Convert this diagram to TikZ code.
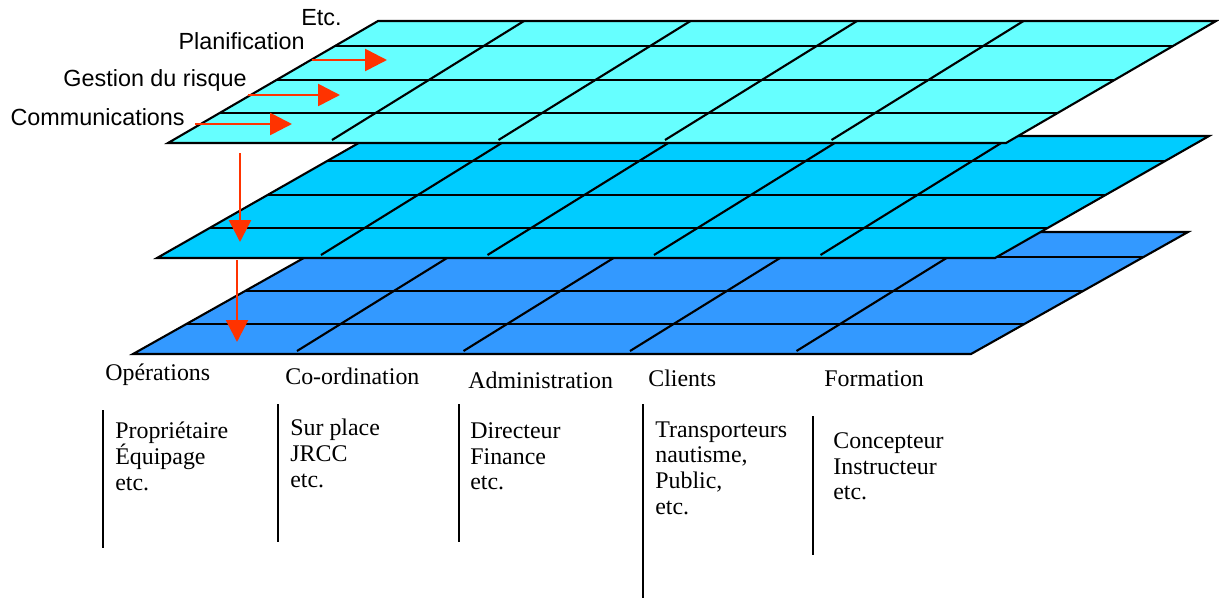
\documentclass[tikz,border=0pt]{standalone}
\usepackage{fontspec}
\setmainfont{Liberation Serif}
\newfontfamily\arialfont{Liberation Sans}
\usetikzlibrary{arrows.meta}
\definecolor{layerA}{HTML}{66FFFF}
\definecolor{layerB}{HTML}{00CCFF}
\definecolor{layerC}{HTML}{3399FF}
\definecolor{flowred}{HTML}{FF3300}

\begin{document}
\begin{tikzpicture}[x=0.02cm, y=-0.02cm,
    gridline/.style={draw=black, line width=1.2pt},
    flow/.style={flowred, line width=1.5pt, -{Triangle[length=12.5pt, width=12.5pt]}},
    planlabel/.style={font=\arialfont\fontsize{13.3}{16}\selectfont, inner sep=0pt, anchor=base east},
    colhead/.style={font=\fontsize{13.6}{15}\selectfont, inner sep=0pt, anchor=base west},
    colbody/.style={font=\fontsize{13.6}{14.7}\selectfont, inner sep=0pt, anchor=north west, align=left},
    divider/.style={black, line width=1.2pt}]
  \useasboundingbox (0,0) rectangle (1219,599);

  % layers, back to front
  \foreach \yt/\xl/\sh/\col in {232/133/217/layerC, 136/157/214/layerB, 21/168/210/layerA}{
    \pgfmathsetmacro{\yb}{\yt+122}
    \filldraw [fill=\col, gridline] (\xl,\yb) -- (\xl+\sh,\yt) -- (\xl+\sh+838,\yt) -- (\xl+838,\yb) -- cycle;
    \foreach \dy in {25,59,92}
      \draw [gridline] ({\xl+\sh/122*(122-\dy)},\yt+\dy) -- ++(838,0);
    \foreach \i in {0,...,3}
      \draw [gridline] ({\xl+164+166.5*\i},\yb-3) -- ++(192,-119);
  }

  \node [planlabel] (etc) at (342,25) {Etc.};
  \node [planlabel] (plan) at (305,49) {Planification};
  \node [planlabel] (risk) at (247,86) {Gestion du risque};
  \node [planlabel] (comm) at (185,125) {Communications};

  \coordinate (planA) at (312,60);  \coordinate (planB) at (387,60);
  \coordinate (riskA) at (248,95);  \coordinate (riskB) at (340,95);
  \coordinate (commA) at (195,124); \coordinate (commB) at (292,124);
  \coordinate (downA) at (240,153); \coordinate (downB) at (240,242);
  \coordinate (downC) at (237,260); \coordinate (downD) at (237,342);
  \draw [flow] (planA) -- (planB);
  \draw [flow] (riskA) -- (riskB);
  \draw [flow] (commA) -- (commB);
  \draw [flow] (downA) -- (downB);
  \draw [flow] (downC) -- (downD);

  \node [colhead] (ops) at (105,380) {Opérations};
  \node [colhead] (coord) at (285,384) {Co-ordination};
  \node [colhead] (admin) at (468,388) {Administration};
  \node [colhead] (clients) at (648,386) {Clients};
  \node [colhead] (training) at (824,386) {Formation};

  \node [colbody] (opsList) at (115,422) {Propriétaire\\Équipage\\etc.};
  \node [colbody] (coordList) at (290,419) {Sur place\\JRCC\\etc.};
  \node [colbody] (adminList) at (470,422) {Directeur\\Finance\\etc.};
  \node [colbody] (clientsList) at (655,421) {Transporteurs\\nautisme,\\Public,\\etc.};
  \node [colbody] (trainingList) at (833,432) {Concepteur\\Instructeur\\etc.};

  \draw [divider] (103,410) -- (103,548);
  \draw [divider] (278,404) -- (278,542);
  \draw [divider] (459,404) -- (459,542);
  \draw [divider] (643,404) -- (643,598);
  \draw [divider] (813,416) -- (813,555);
\end{tikzpicture}
\end{document}
